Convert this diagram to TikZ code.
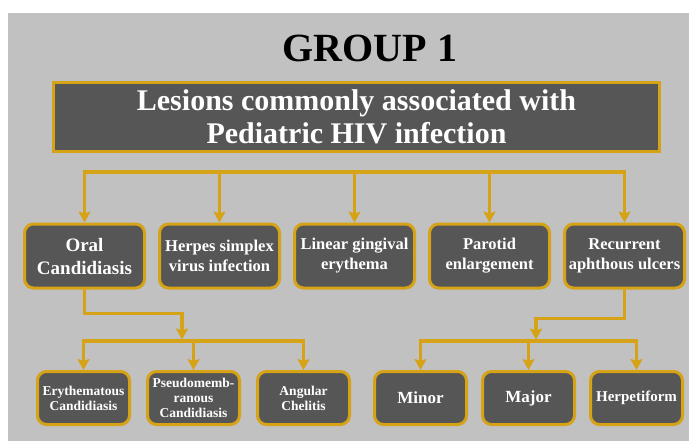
\documentclass[tikz,border=0pt]{standalone}
\usepackage{fontspec}
\setmainfont{Liberation Serif}
\usetikzlibrary{positioning,arrows.meta}
\definecolor{panelgray}{RGB}{193,193,193}
\definecolor{boxgray}{RGB}{86,86,86}
\definecolor{goldline}{RGB}{214,162,22}

\begin{document}
\begin{tikzpicture}[
    x=1pt, y=-1pt,
    >={Stealth[length=11pt,width=12pt,inset=2pt]},
    node distance=12pt,
    box/.style={draw=goldline, line width=3pt, rectangle, rounded corners=9pt, fill=boxgray, text=white, align=center, inner sep=2pt, minimum width=120pt, minimum height=64pt, font=\bfseries\fontsize{16.5}{20}\selectfont},
    subbox/.style={box, minimum width=92pt, minimum height=53pt, font=\bfseries\fontsize{13.5}{15}\selectfont},
    link/.style={draw=goldline, line width=3.2pt, line cap=rect},
    arrow/.style={link, ->}
]
  \useasboundingbox[fill=white] (0,0) rectangle (689,442);
  \fill[panelgray] (8,13) rectangle (689,441);

  \node[font=\bfseries\fontsize{40}{40}\selectfont] (title) at (370,48) {GROUP 1};
  \node[draw=goldline, line width=3pt, fill=boxgray, text=white, align=center, minimum width=606pt, minimum height=69pt, font=\bfseries\fontsize{30}{33}\selectfont] (lesions) at (356.5,117) {Lesions commonly associated with\\Pediatric HIV infection};

  % first row of lesions
  \node[box, font=\bfseries\fontsize{19}{23}\selectfont] (oral) at (84.5,256) {Oral\\Candidiasis};
  \node[box, right=of oral] (hsv) {Herpes simplex\\virus infection};
  \node[box, right=of hsv] (lge) {Linear gingival\\erythema};
  \node[box, right=of lge] (parotid) {Parotid\\enlargement};
  \node[box, right=of parotid] (rau) {Recurrent\\aphthous ulcers};

  % second row, candidiasis and ulcer types
  \node[subbox] (ery) at (83.5,398) {Erythematous\\Candidiasis};
  \node[subbox, right=15pt of ery] (pseudo) {Pseudomemb-\\ranous\\Candidiasis};
  \node[subbox, right=15pt of pseudo] (angular) {Angular\\Chelitis};
  \node[subbox, font=\bfseries\fontsize{17}{20}\selectfont] (minor) at (420.5,398) {Minor};
  \node[subbox, right=13pt of minor, font=\bfseries\fontsize{17}{20}\selectfont] (major) {Major};
  \node[subbox, right=13pt of major, font=\bfseries\fontsize{15}{18}\selectfont] (herpetiform) {Herpetiform};

  \coordinate (topbus) at (0,172);
  \coordinate (subbus) at (0,341);
  \coordinate (lsplit) at (182,339.5);
  \coordinate (rsplit) at (536,339.5);

  \draw[link] (oral.north |- topbus) -- (rau.north |- topbus);
  \foreach \n in {oral,hsv,lge,parotid,rau}
    \draw[arrow] (\n.north |- topbus) -- (\n.north);

  \draw[arrow] (oral.south) -- ++(0,24) -| (lsplit);
  \draw[link] (ery.north |- subbus) -- (angular.north |- subbus);
  \foreach \n in {ery,pseudo,angular}
    \draw[arrow] (\n.north |- subbus) -- (\n.north);

  \draw[arrow] (rau.south) -- ++(0,29) -| (rsplit);
  \draw[link] (minor.north |- subbus) -- (herpetiform.north |- subbus);
  \foreach \n in {minor,major,herpetiform}
    \draw[arrow] (\n.north |- subbus) -- (\n.north);
\end{tikzpicture}
\end{document}
